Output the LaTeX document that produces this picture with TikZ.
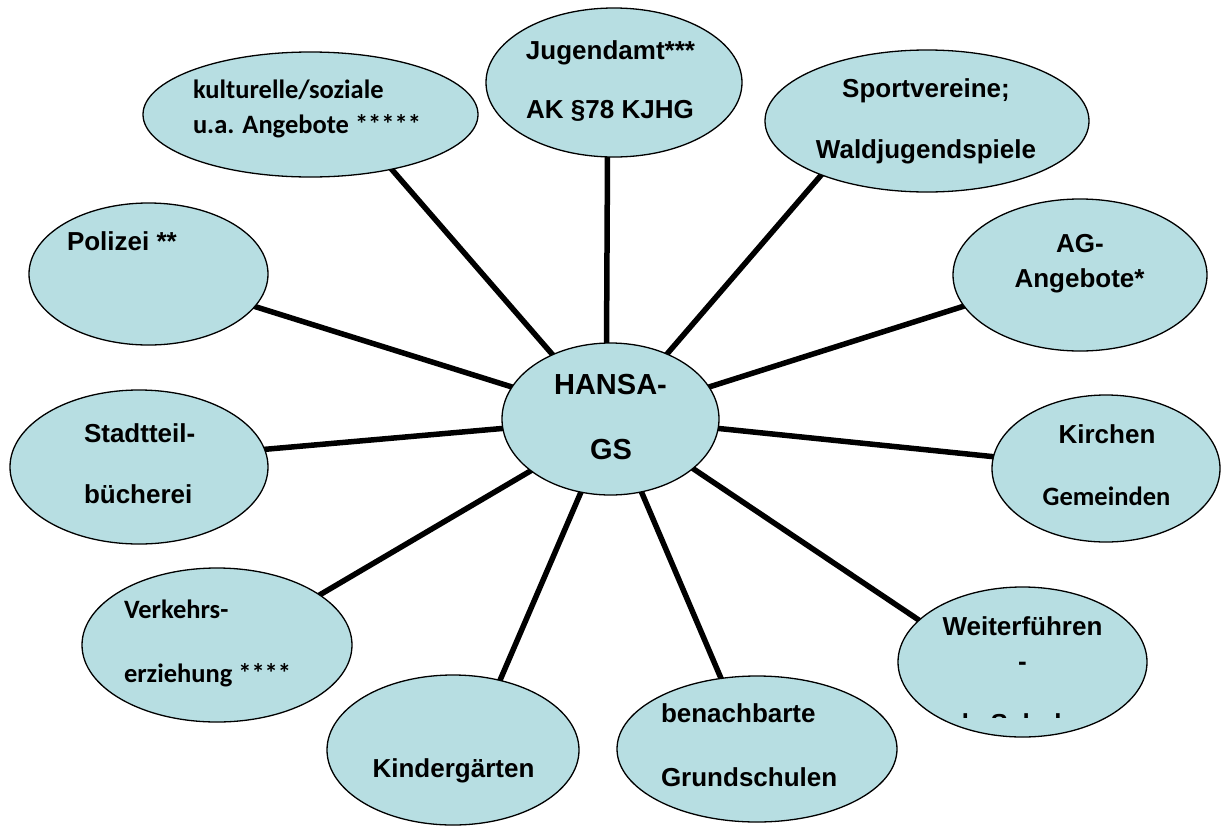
\documentclass[tikz,border=0pt]{standalone}
\usepackage{fontspec}
\setmainfont{Liberation Sans}
\newfontfamily\calib{Carlito}
\usetikzlibrary{shapes.geometric,backgrounds}
\definecolor{bubble}{RGB}{183,222,226}
\begin{document}
\begin{tikzpicture}[x=1pt,y=-1pt,
  bub/.style={ellipse, draw=black, line width=1.3pt, fill=bubble, inner sep=0pt, outer sep=0pt},
  con/.style={line width=5.5pt, shorten <=-4pt, shorten >=-4pt},
  txt/.style={inner sep=0pt, outer sep=0pt, font=\fontsize{26}{30}\selectfont\bfseries},
  bigtxt/.style={inner sep=0pt, outer sep=0pt, font=\fontsize{29}{34}\selectfont\bfseries},
  ctxt/.style={inner sep=0pt, outer sep=0pt, font=\calib\fontsize{26.5}{30}\selectfont\bfseries}]
\useasboundingbox (0,0) rectangle (1221,825);

% bubbles
\node[bub, minimum width=217pt, minimum height=152pt] (hansa) at (610.5,419) {};
\node[bub, minimum width=256pt, minimum height=149pt] (jugend) at (614,82.5) {};
\node[bub, minimum width=335pt, minimum height=125pt] (kult) at (310.5,114.5) {};
\node[bub, minimum width=324pt, minimum height=142pt] (sport) at (927,121) {};
\node[bub, minimum width=239pt, minimum height=142pt] (polizei) at (148.5,274) {};
\node[bub, minimum width=254pt, minimum height=152pt] (ag) at (1080,275) {};
\node[bub, minimum width=258pt, minimum height=154pt] (stadt) at (139,467) {};
\node[bub, minimum width=228pt, minimum height=147pt] (kirchen) at (1106,468.5) {};
\node[bub, minimum width=270pt, minimum height=154pt] (verkehr) at (217,645) {};
\node[bub, minimum width=249pt, minimum height=150pt] (weiter) at (1022.5,662) {};
\node[bub, minimum width=252pt, minimum height=150pt] (kinder) at (453,750) {};
\node[bub, minimum width=280pt, minimum height=146pt] (grund) at (757,749) {};

% connectors
\begin{pgfonlayer}{background}
\fill[white] (0,0) rectangle (1221,825);
\draw[con] (hansa.93) -- (jugend.265);
\draw[con] (hansa.132) -- (kult.326);
\draw[con] (hansa.49) -- (sport.207);
\draw[con] (hansa.162) -- (polizei.343);
\draw[con] (hansa.18) -- (ag.195);
\draw[con] (hansa.185) -- (stadt.8);
\draw[con] (hansa.355) -- (kirchen.174);
\draw[con] (hansa.213) -- (verkehr.26);
\draw[con] (hansa.329) -- (weiter.158);
\draw[con] (hansa.248) -- (kinder.56);
\draw[con] (hansa.293) -- (grund.117);
\end{pgfonlayer}

% texts
\node[bigtxt, anchor=base] (th1) at (610.5,394) {HANSA-};
\node[bigtxt, anchor=base] (th2) at (611,459) {GS};
\node[txt, anchor=base] (tj1) at (610.5,59) {Jugendamt***};
\node[txt, anchor=base] (tj2) at (610,118) {AK §78 KJHG};
\node[ctxt, anchor=base west] (tk1) at (193,98) {kulturelle/soziale};
\node[ctxt, anchor=base west] (tk2) at (193,133) {u.a. Angebote *****};
\node[txt, anchor=base] (ts1) at (926,97) {Sportvereine;};
\node[txt, anchor=base] (ts2) at (926,158) {Waldjugendspiele};
\node[txt, anchor=base west] (tp1) at (67,250) {Polizei **};
\node[txt, anchor=base] (ta1) at (1080,252) {AG-};
\node[txt, anchor=base] (ta2) at (1079.5,287) {Angebote*};
\node[txt, anchor=base west] (tb1) at (84,442) {Stadtteil-};
\node[txt, anchor=base west] (tb2) at (84,503) {bücherei};
\node[txt, anchor=base] (tc1) at (1107,443) {Kirchen};
\node[ctxt, anchor=base] (tc2) at (1106.5,505) {Gemeinden};
\node[ctxt, anchor=base west] (tv1) at (124,618) {Verkehrs-};
\node[ctxt, anchor=base west] (tv2) at (124,682) {erziehung ****};
\node[txt, anchor=base] (tw1) at (1022.5,635) {Weiterführen};
\node[txt, anchor=base] (tw2) at (1022.5,670) {-};
\begin{scope}
\clip (898,600) rectangle (1147,717.5);
\node[txt, anchor=base] (tw3) at (1022.5,732) {de Schulen};
\end{scope}
\node[txt, anchor=base] (tg1) at (453.5,777) {Kindergärten};
\node[txt, anchor=base west] (tn1) at (661,722) {benachbarte};
\node[txt, anchor=base west] (tn2) at (661,786) {Grundschulen};
\end{tikzpicture}
\end{document}
